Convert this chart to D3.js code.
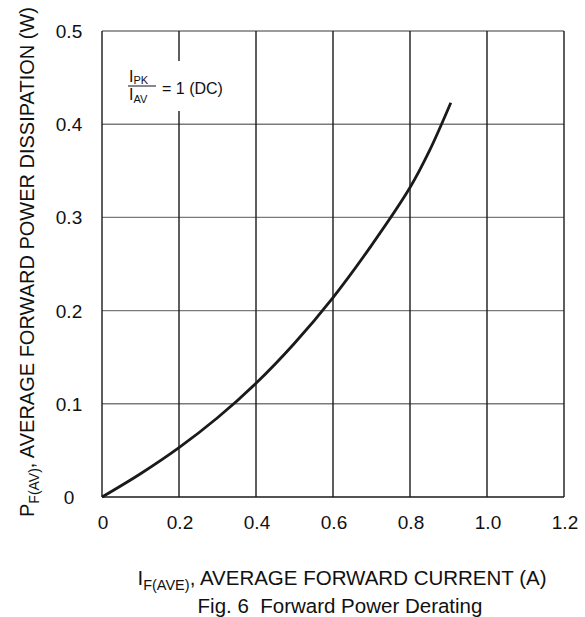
<!DOCTYPE html>
<html>
<head>
<meta charset="utf-8">
<script src="https://cdn.jsdelivr.net/npm/d3@7"></script>
<style>
  body { margin: 0; background: #fff; }
  text { font-family: "Liberation Sans", Arial, sans-serif; fill: #111; }
</style>
</head>
<body>
<div id="chart"></div>
<script>
// data
const currentA = [0, 0.1, 0.2, 0.3, 0.4, 0.5, 0.6, 0.7, 0.8, 0.85, 0.906];
const powerW   = [0, 0.025, 0.053, 0.085, 0.122, 0.165, 0.214, 0.27, 0.332, 0.371, 0.423];
const xTicks = [0, 0.2, 0.4, 0.6, 0.8, 1.0, 1.2];
const yTicks = [0, 0.1, 0.2, 0.3, 0.4, 0.5];
const xTickLabels = ["0", "0.2", "0.4", "0.6", "0.8", "1.0", "1.2"];
const yTickLabels = ["0", "0.1", "0.2", "0.3", "0.4", "0.5"];

const W = 585, H = 617;
const MARGIN = { top: 31, right: 21, bottom: 120, left: 102 };
const iw = W - MARGIN.left - MARGIN.right;
const ih = H - MARGIN.top - MARGIN.bottom;

const svgRoot = d3.select("#chart").append("svg").attr("width", W).attr("height", H);
const svg = svgRoot.append("g").attr("transform", `translate(${MARGIN.left},${MARGIN.top})`);

const x = d3.scaleLinear().domain([0, 1.2]).range([0, iw]);
const y = d3.scaleLinear().domain([0, 0.5]).range([ih, 0]);

// horizontal grid (gray)
svg.selectAll("line.hgrid").data(yTicks.slice(1))
  .join("line").attr("class", "hgrid")
  .attr("x1", 0).attr("x2", iw)
  .attr("y1", d => y(d)).attr("y2", d => y(d))
  .attr("stroke", "#7a7a7a").attr("stroke-width", 1.4);

// vertical grid (black)
svg.selectAll("line.vgrid").data(xTicks.slice(1))
  .join("line").attr("class", "vgrid")
  .attr("x1", d => x(d)).attr("x2", d => x(d))
  .attr("y1", 0).attr("y2", ih)
  .attr("stroke", "#1a1a1a").attr("stroke-width", 1.4);

// axes lines
svg.append("line").attr("x1", 0).attr("x2", 0).attr("y1", 0).attr("y2", ih)
  .attr("stroke", "#1a1a1a").attr("stroke-width", 1.4);
svg.append("line").attr("x1", 0).attr("x2", iw).attr("y1", ih).attr("y2", ih)
  .attr("stroke", "#1a1a1a").attr("stroke-width", 1.4);

// tick labels
svg.selectAll("text.xt").data(xTicks)
  .join("text").attr("class", "xt")
  .attr("x", d => x(d) + 1).attr("y", ih + 32)
  .attr("text-anchor", "middle").attr("font-size", 19)
  .text((d, i) => xTickLabels[i]);

svg.selectAll("text.yt").data(yTicks)
  .join("text").attr("class", "yt")
  .attr("x", -33).attr("y", d => y(d) + 7)
  .attr("text-anchor", "middle").attr("font-size", 19)
  .text((d, i) => yTickLabels[i]);

// annotation box (white background hides the grid line)
const ann = svg.append("g").attr("transform", "translate(26,55)");
ann.append("rect").attr("x", 0).attr("y", -25).attr("width", 100).attr("height", 50).attr("fill", "#fff");
const num = ann.append("text").attr("x", 1).attr("y", -4).attr("font-size", 16);
num.append("tspan").text("I");
num.append("tspan").attr("font-size", 11).attr("dy", 2).text("PK");
ann.append("line").attr("x1", 0).attr("x2", 28).attr("y1", 0).attr("y2", 0)
  .attr("stroke", "#111").attr("stroke-width", 1);
const den = ann.append("text").attr("x", 1).attr("y", 14).attr("font-size", 16);
den.append("tspan").text("I");
den.append("tspan").attr("font-size", 11).attr("dy", 3).text("AV");
ann.append("text").attr("x", 34).attr("y", 8).attr("font-size", 16).text("= 1 (DC)");

// curve
const line = d3.line().x(d => x(d[0])).y(d => y(d[1])).curve(d3.curveCatmullRom.alpha(0.5));
svg.append("path").datum(d3.zip(currentA, powerW))
  .attr("d", line).attr("fill", "none")
  .attr("stroke", "#1a1a1a").attr("stroke-width", 2.8);

// x axis title
const xt = svgRoot.append("text").attr("x", 342).attr("y", 585)
  .attr("text-anchor", "middle").attr("font-size", 20.5);
xt.append("tspan").text("I");
xt.append("tspan").attr("font-size", 14.5).attr("dy", 5).text("F(AVE)");
xt.append("tspan").attr("dy", -5).text(", AVERAGE FORWARD CURRENT (A)");

svgRoot.append("text").attr("x", 340).attr("y", 613)
  .attr("text-anchor", "middle").attr("font-size", 20.5)
  .attr("xml:space", "preserve").style("white-space", "pre")
  .text("Fig. 6  Forward Power Derating");

// y axis title
const yt = svgRoot.append("text").attr("transform", "translate(34,262) rotate(-90)")
  .attr("text-anchor", "middle").attr("font-size", 20);
yt.append("tspan").text("P");
yt.append("tspan").attr("font-size", 14).attr("dy", 5).text("F(AV)");
yt.append("tspan").attr("dy", -5).text(", AVERAGE FORWARD POWER DISSIPATION (W)");
</script>
</body>
</html>
